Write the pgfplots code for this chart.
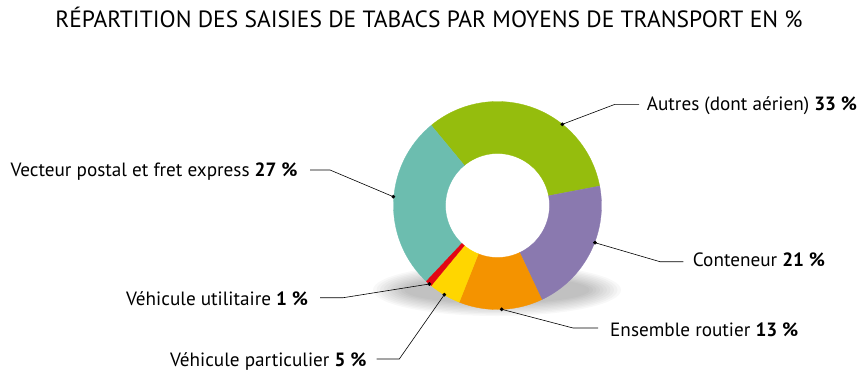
\documentclass[border=0pt]{standalone}
\usepackage{pgfplots}
\pgfplotsset{compat=1.18}
\usepgfplotslibrary{fillbetween}
\tikzset{fill between/on layer=main}
\usepackage{fontspec}
\setmainfont{PT Sans}
\definecolor{cGreen}{RGB}{149,189,13}
\definecolor{cPurple}{RGB}{138,121,175}
\definecolor{cOrange}{RGB}{244,147,0}
\definecolor{cYellow}{RGB}{255,214,0}
\definecolor{cRed}{RGB}{227,6,19}
\definecolor{cTeal}{RGB}{108,189,175}
\begin{document}
\begin{tikzpicture}
\begin{axis}[
  width=867pt, height=376pt, scale only axis,
  xmin=0, xmax=867, ymin=0, ymax=376,
  hide axis, clip=false,
]
% soft shadow under the donut
\pgfplotsinvokeforeach{0,...,9}{
  \fill[black, opacity=0.028] (axis cs:497,86) ellipse [x radius={124-3.5*#1}, y radius={26-1.4*#1}];
}
% Shares (%): Autres 33, Conteneur 21, Ensemble routier 13, Vehicule particulier 5,
% Vehicule utilitaire 1, Vecteur postal 27 -- start at 129.6 deg, clockwise, 3.6 deg per %
% Autres 33 %: 129.6 -> 10.8
\addplot[draw=none, name path=o1, domain=10.8:129.6, samples=90] ({497.5+104*cos(x)},{170.5+104*sin(x)});
\addplot[draw=none, name path=i1, domain=10.8:129.6, samples=60] ({497.5+52*cos(x)},{170.5+52*sin(x)});
\addplot[fill=cGreen, draw=cGreen, line width=0.3pt] fill between[of=o1 and i1];
% Conteneur 21 %: 10.8 -> -64.8
\addplot[draw=none, name path=o2, domain=-64.8:10.8, samples=60] ({497.5+104*cos(x)},{170.5+104*sin(x)});
\addplot[draw=none, name path=i2, domain=-64.8:10.8, samples=40] ({497.5+52*cos(x)},{170.5+52*sin(x)});
\addplot[fill=cPurple, draw=cPurple, line width=0.3pt] fill between[of=o2 and i2];
% Ensemble routier 13 %: -64.8 -> -111.6
\addplot[draw=none, name path=o3, domain=-111.6:-64.8, samples=40] ({497.5+104*cos(x)},{170.5+104*sin(x)});
\addplot[draw=none, name path=i3, domain=-111.6:-64.8, samples=30] ({497.5+52*cos(x)},{170.5+52*sin(x)});
\addplot[fill=cOrange, draw=cOrange, line width=0.3pt] fill between[of=o3 and i3];
% Vehicule particulier 5 %: -111.6 -> -129.6
\addplot[draw=none, name path=o4, domain=-129.6:-111.6, samples=20] ({497.5+104*cos(x)},{170.5+104*sin(x)});
\addplot[draw=none, name path=i4, domain=-129.6:-111.6, samples=15] ({497.5+52*cos(x)},{170.5+52*sin(x)});
\addplot[fill=cYellow, draw=cYellow, line width=0.3pt] fill between[of=o4 and i4];
% Vecteur postal 27 %: -133.2 -> -230.4
\addplot[draw=none, name path=o6, domain=-230.4:-133.2, samples=80] ({497.5+104*cos(x)},{170.5+104*sin(x)});
\addplot[draw=none, name path=i6, domain=-230.4:-133.2, samples=50] ({497.5+52*cos(x)},{170.5+52*sin(x)});
\addplot[fill=cTeal, draw=cTeal, line width=0.3pt] fill between[of=o6 and i6];
% Vehicule utilitaire 1 %: -129.6 -> -133.2
\addplot[draw=none, name path=o5, domain=-133.2:-129.6, samples=6] ({497.5+104*cos(x)},{170.5+104*sin(x)});
\addplot[draw=none, name path=i5, domain=-133.2:-129.6, samples=6] ({497.5+52*cos(x)},{170.5+52*sin(x)});
\addplot[fill=cRed, draw=cRed, line width=0.3pt] fill between[of=o5 and i5];

% leader lines
\addplot[black, line width=0.6pt] coordinates {(562.3,251.7) (615,271.7) (639,271.7)};
\addplot[black, line width=0.6pt] coordinates {(595,133.3) (660,114.3) (683.3,114.3)};
\addplot[black, line width=0.6pt] coordinates {(501.7,66.7) (573,48) (598,48)};
\addplot[black, line width=0.6pt] coordinates {(393.3,179.3) (330,206) (310,206)};
\addplot[black, line width=0.6pt] coordinates {(429.3,92) (343.3,78.3) (320,78.3)};
\addplot[black, line width=0.6pt] coordinates {(444.3,81.3) (399.3,17) (376.7,17)};
\addplot[only marks, mark=*, mark size=1.7pt, black] coordinates {
  (562.3,251.7) (595,133.3) (501.7,66.7) (393.3,179.3) (429.3,92) (444.3,81.3)};

% labels
\begin{scope}[every node/.style={font=\fontsize{19.2}{21}\selectfont, inner sep=0pt}]
\node[anchor=base west] at (axis cs:646.7,266) {Autres (dont aérien) \textbf{33 \%}};
\node[anchor=base west] at (axis cs:692.7,109.3) {Conteneur \textbf{21 \%}};
\node[anchor=base west] at (axis cs:610,39.3) {Ensemble routier \textbf{13 \%}};
\node[anchor=base east] at (axis cs:297.7,200) {Vecteur postal et fret express \textbf{27 \%}};
\node[anchor=base east] at (axis cs:308.3,71) {Véhicule utilitaire \textbf{1 \%}};
\node[anchor=base east] at (axis cs:366.7,10) {Véhicule particulier \textbf{5 \%}};
\end{scope}
\node[anchor=base, inner sep=0pt, font=\fontsize{23.5}{26}\selectfont] at (axis cs:429,348.7) {RÉPARTITION DES SAISIES DE TABACS PAR MOYENS DE TRANSPORT EN \%};
\end{axis}
\pgfresetboundingbox
\path[use as bounding box] (current axis.south west) rectangle (current axis.north east);
\end{tikzpicture}
\end{document}
